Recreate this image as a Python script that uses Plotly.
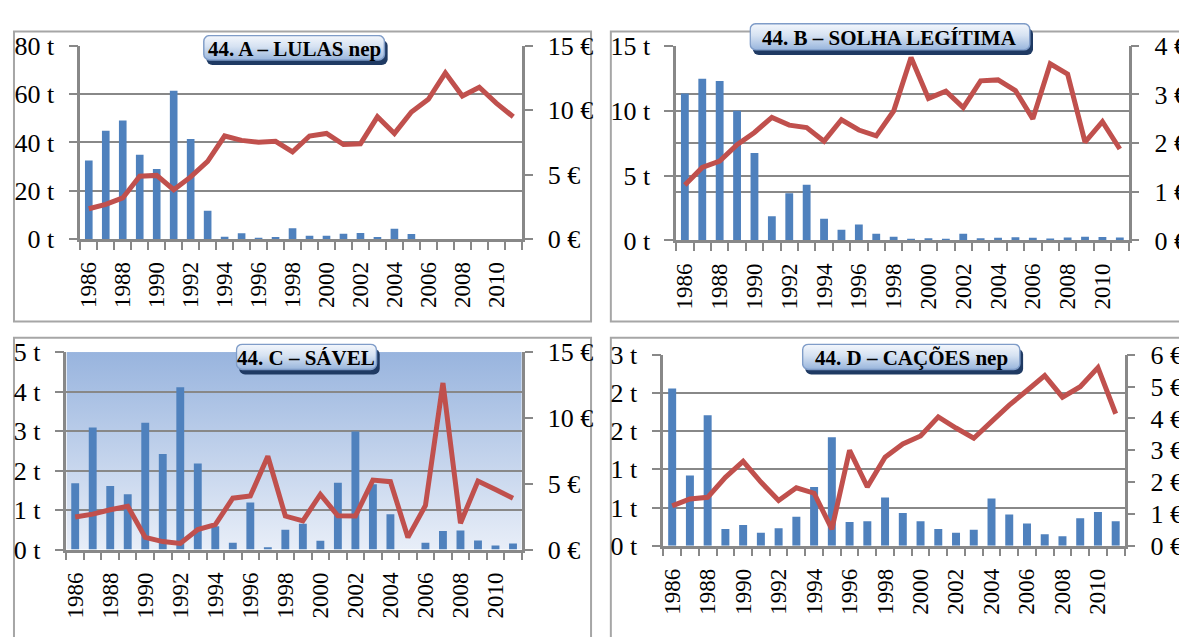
import base64

import plotly.graph_objects as go
from plotly.subplots import make_subplots

# Page is 1187x637; the default body margin pushes the figure 8px right and down,
# so the figure is made smaller and positions are given in page pixels.
PAGE_OFF = 8
W, H = 1179, 629

years = list(range(1986, 2012))
label_years = list(range(1986, 2011, 2))
year_labels = [str(y) for y in label_years]

# 44. A - LULAS nep
lulas_t = [32.5, 44.8, 49.1, 34.9, 29.0, 61.4, 41.4, 11.7, 0.9, 2.4, 0.5, 0.8, 4.5,
           1.4, 1.3, 2.2, 2.5, 0.8, 4.2, 2.1, 0, 0, 0, 0, 0, 0]
lulas_eur = [2.35, 2.69, 3.19, 4.87, 4.94, 3.83, 4.82, 6.03, 8.0, 7.66, 7.51, 7.59, 6.77,
             8.0, 8.2, 7.34, 7.39, 9.49, 8.2, 9.86, 10.85, 12.9, 11.1, 11.79, 10.55, 9.49]

# 44. B - SOLHA LEGÍTIMA
solha_t = [11.32, 12.47, 12.3, 10.0, 6.74, 1.86, 3.63, 4.29, 1.67, 0.83, 1.23, 0.51, 0.29,
           0.07, 0.17, 0.07, 0.51, 0.17, 0.2, 0.25, 0.2, 0.15, 0.22, 0.29, 0.27, 0.22]
solha_eur = [1.14, 1.5, 1.63, 1.97, 2.22, 2.53, 2.37, 2.32, 2.04, 2.48, 2.27, 2.15, 2.66,
             3.76, 2.92, 3.07, 2.73, 3.28, 3.3, 3.08, 2.5, 3.63, 3.42, 2.02, 2.44, 1.88]

# 44. C - SÁVEL
savel_t = [1.68, 3.09, 1.61, 1.4, 3.21, 2.42, 4.11, 2.18, 0.59, 0.17, 1.19, 0.06, 0.5,
           0.65, 0.22, 1.69, 2.99, 1.65, 0.89, 0, 0.17, 0.47, 0.48, 0.23, 0.1, 0.15]
savel_eur = [2.47, 2.69, 3.02, 3.29, 0.92, 0.6, 0.46, 1.52, 1.89, 3.9, 4.06, 7.09, 2.54,
             2.18, 4.19, 2.56, 2.54, 5.27, 5.15, 0.92, 3.34, 12.65, 2.0, 5.2, 4.55, 3.9]

# 44. D - CAÇÕES nep
cacoes_t = [2.06, 0.92, 1.71, 0.22, 0.27, 0.17, 0.23, 0.38, 0.77, 1.42, 0.31, 0.32, 0.63,
            0.43, 0.32, 0.22, 0.17, 0.21, 0.62, 0.41, 0.29, 0.15, 0.125, 0.36, 0.44, 0.32]
cacoes_eur = [1.25, 1.47, 1.52, 2.15, 2.65, 2.0, 1.42, 1.82, 1.65, 0.52, 3.0, 1.85, 2.78,
              3.2, 3.45, 4.05, 3.7, 3.38, 3.9, 4.42, 4.88, 5.35, 4.67, 5.0, 5.6, 4.15]
cacoes_tick_vals = [0, 0.5, 1, 1.5, 2, 2.5]
cacoes_tick_text = ["0 t", "1 t", "1 t", "2 t", "2 t", "3 t"]

titles = ["44. A – LULAS nep", "44. B – SOLHA LEGÍTIMA", "44. C – SÁVEL", "44. D – CAÇÕES nep"]

FONT = "Liberation Serif"
GRID = "#888888"
BAR = "#4F81BD"
LINE = "#C0504D"


def px(x):
    return (x - PAGE_OFF) / W


def py(y):
    return 1 - (y - PAGE_OFF) / H


def svg_uri(svg):
    return "data:image/svg+xml;base64," + base64.b64encode(svg.encode("utf-8")).decode()


def title_box(w, h):
    svg = (
        f"<svg xmlns='http://www.w3.org/2000/svg' width='{w + 4}' height='{h + 6}'>"
        "<defs><linearGradient id='g' x1='0' y1='0' x2='0' y2='1'>"
        "<stop offset='0' stop-color='#F4F7FC'/><stop offset='0.45' stop-color='#D6E2F2'/>"
        "<stop offset='1' stop-color='#98B5DC'/></linearGradient></defs>"
        f"<rect x='3.5' y='5.5' width='{w - 1}' height='{h - 1}' rx='6' fill='#1F3A63'/>"
        f"<rect x='0.75' y='0.75' width='{w - 1.5}' height='{h - 1.5}' rx='6' "
        "fill='url(#g)' stroke='#7F9CC8' stroke-width='1.5'/></svg>"
    )
    return svg_uri(svg)


def plot_gradient():
    svg = (
        "<svg xmlns='http://www.w3.org/2000/svg' width='100' height='100' preserveAspectRatio='none'>"
        "<defs><linearGradient id='g' x1='0' y1='0' x2='0' y2='1'>"
        "<stop offset='0' stop-color='#98B4DE'/><stop offset='1' stop-color='#E8EEF8'/>"
        "</linearGradient></defs><rect width='100' height='100' fill='url(#g)'/></svg>"
    )
    return svg_uri(svg)


# plot areas in page pixels: (left, right, top, bottom), frames and title boxes
panels = [
    dict(row=1, col=1, t=lulas_t, e=lulas_eur, tmax=80, tdtick=20, emax=15, edtick=5,
         egrid=False, area=(77, 523, 33, 235.5), frame=(10, 593, 18, 322),
         title=(293, 35, 184, 27)),
    dict(row=1, col=2, t=solha_t, e=solha_eur, tmax=15, tdtick=5, emax=4, edtick=1,
         egrid=True, area=(679, 1136, 33, 237), frame=(613, 1200, 18, 322),
         title=(895, 23.5, 284, 29)),
    dict(row=2, col=1, t=savel_t, e=savel_eur, tmax=5, tdtick=1, emax=15, edtick=5,
         egrid=False, area=(63, 523, 354, 561), frame=(10, 593, 339, 660),
         title=(305.5, 359, 143, 28)),
    dict(row=2, col=2, t=cacoes_t, e=cacoes_eur, tmax=2.5, tdtick=None, emax=6, edtick=1,
         egrid=False, area=(666, 1132, 357, 557), frame=(613, 1200, 339, 660),
         title=(916.5, 359, 221, 28)),
]

fig = make_subplots(rows=2, cols=2, specs=[[{"secondary_y": True}] * 2] * 2)

tick_font = dict(family=FONT, size=26, color="black")
shapes = []
images = []
annotations = []

for i, p in enumerate(panels):
    r, c = p["row"], p["col"]
    fig.add_trace(go.Bar(x=years, y=p["t"], width=0.45, marker=dict(color=BAR, line=dict(width=0)),
                         showlegend=False), row=r, col=c, secondary_y=False)
    fig.add_trace(go.Scatter(x=years, y=p["e"], mode="lines", line=dict(color=LINE, width=5),
                             showlegend=False), row=r, col=c, secondary_y=True)

    left, right, top, bottom = p["area"]
    fig.update_xaxes(
        domain=[px(left), px(right)], range=[1985.5, 2011.5],
        tickmode="array", tickvals=label_years, ticktext=year_labels, tickangle=-90,
        ticks="", showline=True, linecolor=GRID, linewidth=2.5, showgrid=False, zeroline=False,
        tickfont=dict(family=FONT, size=23, color="black"), ticklabelstandoff=11,
        minor=dict(tickmode="linear", tick0=1985.5, dtick=1, ticks="outside", ticklen=8,
                   tickwidth=2, tickcolor=GRID, showgrid=False),
        row=r, col=c,
    )
    ykw = dict(range=[0, p["tmax"]], ticks="outside", ticklen=9, tickwidth=2, tickcolor=GRID,
               showline=True, linecolor=GRID, linewidth=2.5, showgrid=True, gridcolor=GRID,
               gridwidth=2, zeroline=False, tickfont=tick_font, ticklabelstandoff=9,
               domain=[py(bottom), py(top)])
    if p["tdtick"] is None:
        ykw.update(tickmode="array", tickvals=cacoes_tick_vals, ticktext=cacoes_tick_text)
    else:
        ykw.update(tickmode="linear", tick0=0, dtick=p["tdtick"], ticksuffix=" t")
    fig.update_yaxes(row=r, col=c, secondary_y=False, **ykw)
    fig.update_yaxes(
        row=r, col=c, secondary_y=True, range=[0, p["emax"]], tickmode="linear", tick0=0,
        dtick=p["edtick"], ticksuffix=" €", ticks="outside", ticklen=8, tickwidth=2,
        tickcolor=GRID, showline=True, linecolor=GRID, linewidth=2.5, showgrid=p["egrid"],
        gridcolor=GRID, gridwidth=2, zeroline=False, tickfont=tick_font, ticklabelstandoff=10,
    )

    fl, fr, ft, fb = p["frame"]
    shapes.append(dict(type="rect", xref="paper", yref="paper", x0=px(fl), x1=px(fr),
                       y0=py(fb), y1=py(ft), line=dict(color="#A6A6A6", width=2), layer="below"))

    cx, cy, bw, bh = p["title"]
    images.append(dict(source=title_box(bw, bh), xref="paper", yref="paper",
                       x=px(cx - bw / 2), y=py(cy - bh / 2), sizex=(bw + 4) / W,
                       sizey=(bh + 6) / H, xanchor="left", yanchor="top",
                       sizing="stretch", layer="above"))
    annotations.append(dict(text="<b>" + titles[i] + "</b>", x=px(cx), y=py(cy + 1),
                            xref="paper", yref="paper", showarrow=False,
                            xanchor="center", yanchor="middle",
                            font=dict(family=FONT, size=21, color="black")))

# gradient background of panel C
left, right, top, bottom = panels[2]["area"]
images.append(dict(source=plot_gradient(), xref="paper", yref="paper", x=px(left), y=py(top),
                   sizex=px(right) - px(left), sizey=py(top) - py(bottom), xanchor="left",
                   yanchor="top", sizing="stretch", layer="below"))

fig.update_layout(
    width=W, height=H, margin=dict(l=0, r=0, t=0, b=0),
    paper_bgcolor="white", plot_bgcolor="rgba(0,0,0,0)",
    showlegend=False, shapes=shapes, images=images, annotations=annotations,
    font=dict(family=FONT, color="black"),
)

fig.write_html("out.html")
